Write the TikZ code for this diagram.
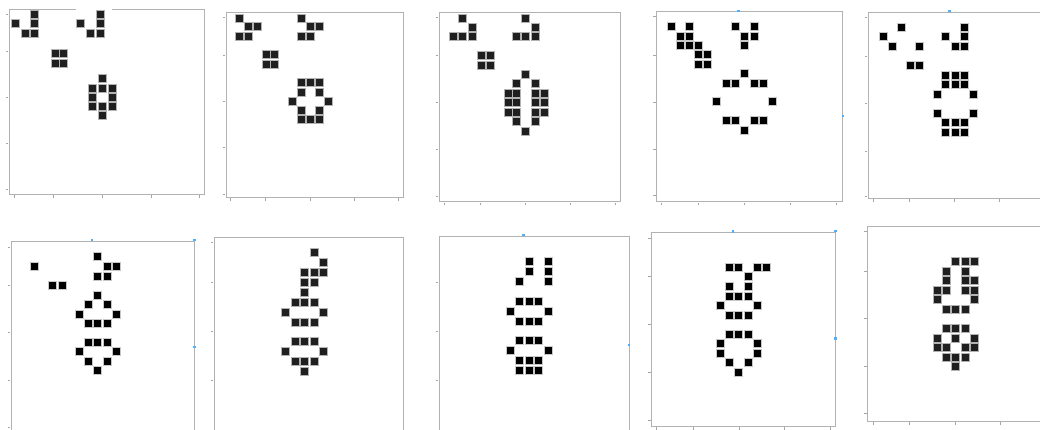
\documentclass[tikz,border=0pt]{standalone}
\begin{document}
\begin{tikzpicture}[x=1pt,y=-1pt,
  frame/.style={draw=black!30,line width=0.8},
  tickmark/.style={draw=black!35,line width=0.5},
  cellA/.style={fill=black!88,draw=black!30,line width=0.6},
  cellB/.style={fill=black,draw=black!22,line width=0.6},
  handle/.style={fill=blue!45!cyan!70!white}]
\useasboundingbox (0,0) rectangle (1040,430);
\clip (0,0) rectangle (1040,430);
\fill[white] (0,0) rectangle (1040,430);
% frames
\draw[frame] (9.3,9) rectangle (204.3,194.3);
\fill[white] (76,6) rectangle (112,11.5);
\draw[frame] (226,12.3) rectangle (403.7,197.3);
\draw[frame] (439.3,12.3) rectangle (620.7,201.7);
\draw[frame] (656.7,11) rectangle (842.3,201.7);
\draw[frame] (868.3,12.3) rectangle (1045,198.3);
\draw[frame] (11,241) rectangle (194,435);
\draw[frame] (214.3,237.3) rectangle (403.7,435);
\draw[frame] (439,236) rectangle (629,435);
\draw[frame] (651.7,232.7) rectangle (835.3,426);
\draw[frame] (867.7,226.7) rectangle (1045,421);
% left ticks
\foreach \l/\y in {9.3/14.7,9.3/51.7,9.3/97.3,9.3/143.3,9.3/189,
  226/17.3,226/55,226/101.7,226/147.3,226/194,
  439.3/17.3,439.3/55.7,439.3/102.7,439.3/149.7,439.3/196,
  656.7/16.7,656.7/55,656.7/102.3,656.7/149,656.7/195.7,
  868.3/17.3,868.3/56,868.3/103.7,868.3/151,868.3/196.5,
  11/247,11/285.3,11/332.7,11/380,11/427.3,
  214.3/242.3,214.3/282.3,214.3/331.7,214.3/380.7,
  439/282.3,439/331,439/380,
  651.7/238.3,651.7/276.7,651.7/324.3,651.7/372.3,651.7/420,
  867.7/231.7,867.7/271,867.7/318.7,867.7/366,867.7/413.3}
  \draw[tickmark] (\l-3.5,\y) -- (\l-1,\y);
% bottom ticks
\foreach \b/\x in {194.3/14,194.3/53.3,194.3/102.3,194.3/151,194.3/199,
  197.3/230.7,197.3/265,197.3/310.7,197.3/354.3,197.3/398.7,
  201.7/444.3,201.7/480,201.7/525.7,201.7/570.3,201.7/615.3,
  201.7/661.7,201.7/698.3,201.7/744.3,201.7/790.3,201.7/836,
  198.3/873.3,198.3/909.3,198.3/954.3,198.3/999.7,
  426/656,426/693.3,426/739,426/784.3,426/830,
  421/873.3,421/909.3,421/955,421/1000.7}
  \draw[tickmark] (\x,\b+1) -- (\x,\b+3.5);
% selection handles
\foreach \x/\y in {738.3/11,843/116,949.3/11,92/240,194.7/240,194.7/347,
  523.3/235,629/345,733/231.7,835.3/231,835.3/338.7}
  \fill[handle] (\x-1.3,\y-1.3) rectangle (\x+1.3,\y+1.3);
% panel 1
\foreach \x/\y in {34.7/14.7,15.3/23.7,34.7/23.7,25/33,34.7/33,
  100.3/14.7,80/23.7,100.3/23.7,90/33,100.3/33,
  55.3/53.3,63.7/53.3,55.3/63,63.7/63,
  102.3/78.7,92.7/88,102.3/88,112.3/88,92.7/97,112.3/97,
  92.7/106.3,102.3/106.3,112.3/106.3,102.3/115.3}
  \draw[cellA] (\x-4,\y-4) rectangle (\x+4,\y+4);
% panel 2
\foreach \x/\y in {239/18,248/26.7,257/26.7,239/36,248/36,
  301.3/18,310.3/26.7,319.3/26.7,301.3/36,310.3/36,
  266.3/54.7,274.7/54.7,266.3/64,274.7/64,
  301.3/82.7,310.3/82.7,319.3/82.7,301.3/92,319.3/92,
  292.7/101,328/101,301.3/110.3,319.3/110.3,
  301.3/119.3,310.3/119.3,319.3/119.3}
  \draw[cellA] (\x-4,\y-4) rectangle (\x+4,\y+4);
% panel 3
\foreach \x/\y in {462.7/18,472/27,453.7/36.3,462.7/36.3,472/36.3,
  525.7/18,535/27,516.7/36.3,525.7/36.3,535/36.3,
  481/55,490/55,481/65,490/65,
  525.7/74,516.7/83.7,535/83.7,
  508/93.3,516.7/93.3,535/93.3,544/93.3,
  508/102.7,516.7/102.7,535/102.7,544/102.7,
  508/112,516.7/112,535/112,544/112,
  516.7/121.3,535/121.3,525.7/131}
  \draw[cellA] (\x-4,\y-4) rectangle (\x+4,\y+4);
% panel 4
\foreach \x/\y in {671/26.7,689.3/26.7,680.3/36,689.3/36,
  680.3/45.3,689.3/45.3,698.7/45.3,698.7/54.7,707.7/54.7,698.7/64,707.7/64,
  735/26.7,754/26.7,744.3/36,754/36,744.3/45.3,
  744.3/73.3,726/83,735/83,754/83,763/83,
  716.7/101.7,772.3/101.7,
  726/120.7,735/120.7,754/120.7,763/120.7,744.3/130}
  \draw[cellB] (\x-4,\y-4) rectangle (\x+4,\y+4);
% panel 5
\foreach \x/\y in {901/27.3,883/36.7,892/46.7,919/46.7,910.3/65.7,919/65.7,
  964.3/27.3,945.7/36.7,964.3/36.7,955/46.7,964.3/46.7,
  945.7/75.7,955/75.7,964.3/75.7,945.7/84.7,955/84.7,964.3/84.7,
  937/94.3,973/94.3,937/113.3,973/113.3,
  945.7/122.7,955/122.7,964.3/122.7,945.7/132,955/132,964.3/132}
  \draw[cellB] (\x-4,\y-4) rectangle (\x+4,\y+4);
% panel 6
\foreach \x/\y in {97.7/256.7,34.3/266.3,107/266.3,116/266.3,
  97.7/276,107/276,52.7/285.3,62/285.3,
  97.7/295,88.7/304.3,107/304.3,79.7/314,116/314,
  88.7/323.3,97.7/323.3,107/323.3,
  88.7/342.3,97.7/342.3,107/342.3,79.7/351.7,116/351.7,
  88.7/361,107/361,97.7/370.7}
  \draw[cellB] (\x-4,\y-4) rectangle (\x+4,\y+4);
% panel 7
\foreach \x/\y in {314/252.7,323.3/262.7,304.3/272.3,314/272.3,323.3/272.3,
  304.3/282,314/282,304.3/292,
  295/302,304.3/302,314/302,285.7/312,323.3/312,
  295/322,304.3/322,314/322,
  295/341.7,304.3/341.7,314/341.7,285.7/351.3,323.3/351.3,
  295/361.3,304.3/361.3,314/361.3,304.3/371}
  \draw[cellA] (\x-4,\y-4) rectangle (\x+4,\y+4);
% panel 8
\foreach \x/\y in {529/261,548/261,529/271,548/271,519.3/281,548/281,
  519.3/301,529/301,538.3/301,510/311,548/311,
  519.3/321,529/321,538.3/321,
  519.3/340.3,529/340.3,538.3/340.3,510/350.3,548/350.3,
  519.3/360.3,529/360.3,538.3/360.3,519.3/370,529/370,538.3/370}
  \draw[cellB] (\x-4,\y-4) rectangle (\x+4,\y+4);
% panel 9
\foreach \x/\y in {729.3/267.3,738.7/267.3,757.3/267.3,766.3/267.3,
  748/276.7,729.3/286.3,748/286.3,
  729.3/296,738.7/296,748/296,720.3/305.7,757.3/305.7,
  729.3/315.3,738.7/315.3,748/315.3,
  729.3/334.3,738.7/334.3,748/334.3,720.3/343.7,757.3/343.7,
  720.3/353.3,757.3/353.3,729.3/362.7,748/362.7,738.7/372.3}
  \draw[cellB] (\x-4,\y-4) rectangle (\x+4,\y+4);
% panel 10
\foreach \x/\y in {955.7/261.3,965/261.3,974/261.3,946.3/271,965/271,
  946.3/280.7,965/280.7,974/280.7,
  937/290.3,946.3/290.3,965/290.3,974/290.3,937/299.7,974/299.7,
  946.3/309.3,955.7/309.3,965/309.3,
  946.3/328.3,955.7/328.3,965/328.3,937/338,955.7/338,974/338,
  937/347.3,946.3/347.3,965/347.3,974/347.3,
  946.3/357,955.7/357,965/357,955.7/366.3}
  \draw[cellA] (\x-4,\y-4) rectangle (\x+4,\y+4);
\end{tikzpicture}
\end{document}
